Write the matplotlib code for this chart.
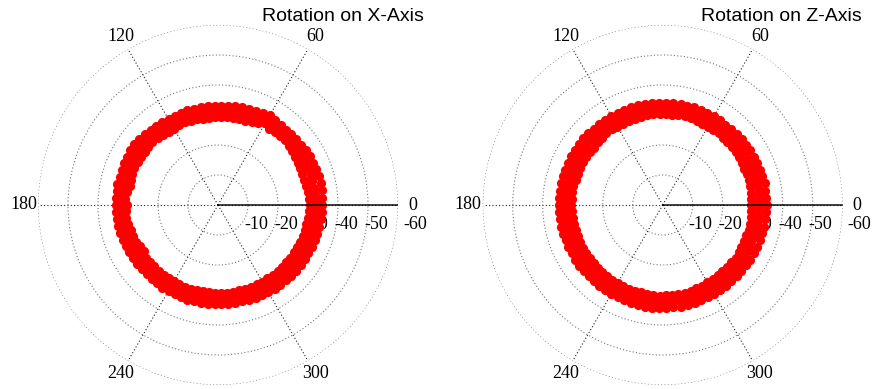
import numpy as np
import matplotlib
matplotlib.use('Agg')
import matplotlib.pyplot as plt
from matplotlib.transforms import ScaledTranslation

# ---------------- data ----------------
theta_ticks = [0, 60, 120, 180, 240, 300]
r_ticks = [-10, -20, -30, -40, -50, -60]

theta_edge = [0, 4, 8, 12, 16, 20, 24, 28, 32, 36,
              40, 44, 48, 52, 56, 60, 64, 68, 72, 76,
              80, 84, 88, 92, 96, 100, 104, 108, 112, 116,
              120, 124, 128, 132, 136, 140, 144, 148, 152, 156,
              160, 164, 168, 172, 176, 180, 184, 188, 192, 196,
              200, 204, 208, 212, 216, 220, 224, 228, 232, 236,
              240, 244, 248, 252, 256, 260, 264, 268, 272, 276,
              280, 284, 288, 292, 296, 300, 304, 308, 312, 316,
              320, 324, 328, 332, 336, 340, 344, 348, 352, 356]
theta_mid = [2, 6, 10, 14, 18, 22, 26, 30, 34, 38,
             42, 46, 50, 54, 58, 62, 66, 70, 74, 78,
             82, 86, 90, 94, 98, 102, 106, 110, 114, 118,
             122, 126, 130, 134, 138, 142, 146, 150, 154, 158,
             162, 166, 170, 174, 178, 182, 186, 190, 194, 198,
             202, 206, 210, 214, 218, 222, 226, 230, 234, 238,
             242, 246, 250, 254, 258, 262, 266, 270, 274, 278,
             282, 286, 290, 294, 298, 302, 306, 310, 314, 318,
             322, 326, 330, 334, 338, 342, 346, 350, 354, 358]

x_inner = [-30.5, -30.4, -30.2, -30.0, -29.8, -29.9, -30.0, -30.1, -30.2, -30.5,
           -30.8, -31.0, -31.0, -30.7, -30.6, -31.5, -30.4, -29.9, -29.5, -29.4,
           -29.3, -29.5, -29.3, -29.2, -29.0, -29.2, -29.4, -29.5, -29.8, -29.6,
           -29.3, -29.4, -29.7, -30.0, -30.4, -30.3, -30.0, -30.1, -30.2, -30.5,
           -30.5, -30.3, -30.0, -30.6, -31.0, -30.5, -30.8, -31.0, -30.5, -30.2,
           -30.0, -30.0, -29.4, -29.2, -29.8, -29.6, -29.5, -29.5, -29.4, -29.3,
           -29.3, -29.4, -29.5, -29.3, -29.1, -29.0, -29.3, -29.3, -29.4, -29.5,
           -29.4, -29.3, -29.5, -29.4, -29.3, -29.5, -29.5, -29.6, -29.8, -29.6,
           -29.6, -29.8, -29.8, -29.9, -30.0, -30.2, -30.3, -30.0, -30.3, -30.5]
x_outer = [-34.7, -34.8, -34.9, -35.0, -35.0, -34.9, -34.8, -34.6, -34.4, -34.0,
           -34.0, -33.9, -33.8, -34.0, -34.2, -34.5, -34.2, -33.8, -33.5, -33.5,
           -33.4, -33.2, -33.1, -33.0, -33.2, -33.1, -33.0, -33.2, -33.1, -33.0,
           -33.0, -33.3, -33.5, -33.6, -33.9, -34.2, -34.5, -34.5, -34.4, -34.3,
           -34.1, -34.0, -34.3, -34.1, -34.0, -34.0, -34.1, -34.0, -34.0, -33.9,
           -33.7, -33.5, -33.5, -33.4, -33.3, -33.1, -33.0, -33.0, -33.1, -33.2,
           -33.0, -33.0, -33.1, -33.2, -33.0, -33.1, -33.3, -33.1, -33.0, -33.2,
           -33.1, -33.0, -33.3, -33.4, -33.5, -33.5, -33.7, -33.8, -33.8, -33.9,
           -34.0, -34.0, -34.0, -34.1, -34.3, -34.4, -34.5, -34.5, -34.7, -34.8]
x_middle = [-32.6, -32.5, -32.6, -32.4, -32.5, -32.3, -32.4, -32.2, -32.3, -32.4,
            -32.5, -32.3, -32.5, -32.4, -32.8, -32.6, -32.0, -31.7, -31.5, -31.4,
            -31.3, -31.2, -31.2, -31.1, -31.0, -31.2, -31.3, -31.4, -31.3, -31.2,
            -31.3, -31.5, -31.7, -32.0, -32.2, -32.3, -32.3, -32.2, -32.4, -32.3,
            -32.2, -32.2, -32.4, -32.5, -32.3, -32.3, -32.5, -32.4, -32.2, -32.0,
            -31.8, -31.6, -31.4, -31.5, -31.4, -31.3, -31.2, -31.2, -31.3, -31.2,
            -31.1, -31.2, -31.3, -31.1, -31.0, -31.1, -31.2, -31.3, -31.2, -31.3,
            -31.2, -31.3, -31.4, -31.4, -31.5, -31.5, -31.6, -31.7, -31.8, -31.8,
            -31.9, -31.9, -32.0, -32.1, -32.2, -32.3, -32.3, -32.4, -32.5, -32.6]

z_inner = [-29.5, -29.6, -29.7, -29.8, -30.0, -29.9, -29.8, -29.9, -30.0, -30.1,
           -30.2, -30.0, -30.1, -30.3, -30.2, -30.0, -30.1, -30.3, -30.4, -30.5,
           -30.3, -30.2, -30.4, -30.3, -30.4, -30.5, -30.3, -30.2, -30.1, -30.0,
           -30.2, -30.4, -30.5, -30.2, -30.0, -29.8, -29.9, -30.0, -30.2, -30.1,
           -30.0, -30.2, -30.4, -30.5, -30.3, -30.5, -30.4, -30.3, -30.2, -30.0,
           -30.1, -30.3, -30.2, -30.0, -29.8, -29.9, -30.0, -30.1, -30.2, -30.0,
           -30.1, -30.2, -30.3, -30.1, -30.0, -30.2, -30.3, -30.2, -30.1, -30.0,
           -30.2, -30.3, -30.1, -30.0, -29.9, -29.8, -29.9, -29.8, -29.6, -29.7,
           -29.8, -30.0, -29.8, -29.7, -29.5, -29.6, -29.8, -29.7, -29.6, -29.5]
z_outer = [-34.6, -34.5, -34.6, -34.7, -34.5, -34.4, -34.3, -34.4, -34.3, -34.2,
           -34.3, -34.2, -34.1, -34.0, -34.1, -34.2, -34.0, -34.1, -34.2, -34.1,
           -34.3, -34.2, -34.1, -34.0, -34.1, -34.2, -34.3, -34.2, -34.1, -34.0,
           -34.2, -34.3, -34.4, -34.3, -34.5, -34.6, -34.5, -34.4, -34.5, -34.6,
           -34.5, -34.6, -34.5, -34.6, -34.6, -34.6, -34.5, -34.6, -34.7, -34.5,
           -34.4, -34.5, -34.3, -34.4, -34.4, -34.3, -34.2, -34.3, -34.4, -34.3,
           -34.3, -34.2, -34.3, -34.4, -34.3, -34.4, -34.5, -34.5, -34.4, -34.3,
           -34.4, -34.3, -34.4, -34.2, -34.3, -34.3, -34.2, -34.1, -34.2, -34.3,
           -34.2, -34.3, -34.4, -34.3, -34.4, -34.5, -34.4, -34.5, -34.6, -34.5]
z_middle = [-32.0, -32.1, -32.2, -32.3, -32.2, -32.1, -32.0, -32.2, -32.1, -32.2,
            -32.3, -32.1, -32.0, -32.2, -32.1, -32.2, -32.3, -32.4, -32.3, -32.2,
            -32.3, -32.2, -32.3, -32.2, -32.4, -32.3, -32.2, -32.1, -32.0, -32.2,
            -32.3, -32.1, -32.2, -32.3, -32.2, -32.3, -32.2, -32.3, -32.4, -32.3,
            -32.4, -32.3, -32.5, -32.4, -32.5, -32.4, -32.5, -32.3, -32.4, -32.2,
            -32.3, -32.2, -32.1, -32.2, -32.0, -32.1, -32.2, -32.1, -32.3, -32.2,
            -32.1, -32.3, -32.2, -32.3, -32.2, -32.3, -32.4, -32.3, -32.2, -32.1,
            -32.3, -32.2, -32.1, -32.0, -32.1, -31.9, -32.0, -31.9, -31.8, -31.9,
            -32.0, -32.1, -31.9, -32.0, -31.8, -31.9, -32.0, -31.9, -32.0, -32.1]

titles = ["Rotation on X-Axis", "Rotation on Z-Axis"]

# ---------------- figure ----------------
W, H = 872, 389
fig = plt.figure(figsize=(W / 100, H / 100), dpi=100)

panels = [
    (38.0, 424.0, titles[0], x_inner, x_middle, x_outer),
    (482.7, 862.0, titles[1], z_inner, z_middle, z_outer),
]

serif = ['Liberation Serif', 'DejaVu Serif']
sans = ['Liberation Sans', 'DejaVu Sans']

for left, title_right, title, r_in, r_mid, r_out in panels:
    ax = fig.add_axes([left / W, 4 / H, 360 / W, 360 / H], projection='polar')
    ax.set_rlim(0, -60)
    ax.set_rticks(r_ticks)
    ax.set_yticklabels([])
    ax.set_thetagrids(theta_ticks, [str(t) for t in theta_ticks])
    for lab in ax.get_xticklabels():
        lab.set_fontfamily(serif)
        lab.set_fontsize(13)
    ax.tick_params(axis='x', pad=0)
    ax.xaxis.grid(True, color='#222222', linestyle=(0, (1, 2)), linewidth=0.8)
    ax.yaxis.grid(True, color='#777777', linestyle=(0, (1, 2)), linewidth=0.8)
    ax.spines['polar'].set_visible(False)
    ax.set_axisbelow(True)

    mk = dict(linestyle='none', marker='o', color='#ff0000', markersize=6.6,
              markeredgewidth=0, zorder=3)
    ax.plot(np.deg2rad(theta_edge), r_in, **mk)
    ax.plot(np.deg2rad(theta_mid), r_mid, **mk)
    ax.plot(np.deg2rad(theta_edge), r_out, **mk)

    ax.axvline(0, color='black', linewidth=1.3, alpha=0.8, zorder=4)

    for rt in r_ticks:
        dx = 17 if rt == r_ticks[-1] else 8
        tr = ax.transData + ScaledTranslation(dx / 100, -19.5 / 100, fig.dpi_scale_trans)
        ax.text(0, rt, str(rt), transform=tr, ha='center', va='center',
                fontsize=13, family=serif, zorder=2, clip_on=False)

    fig.text(title_right / W, 1 - 21 / H, title, ha='right', va='baseline',
             fontsize=14, family=sans)

fig.savefig('out.png', dpi=100)
